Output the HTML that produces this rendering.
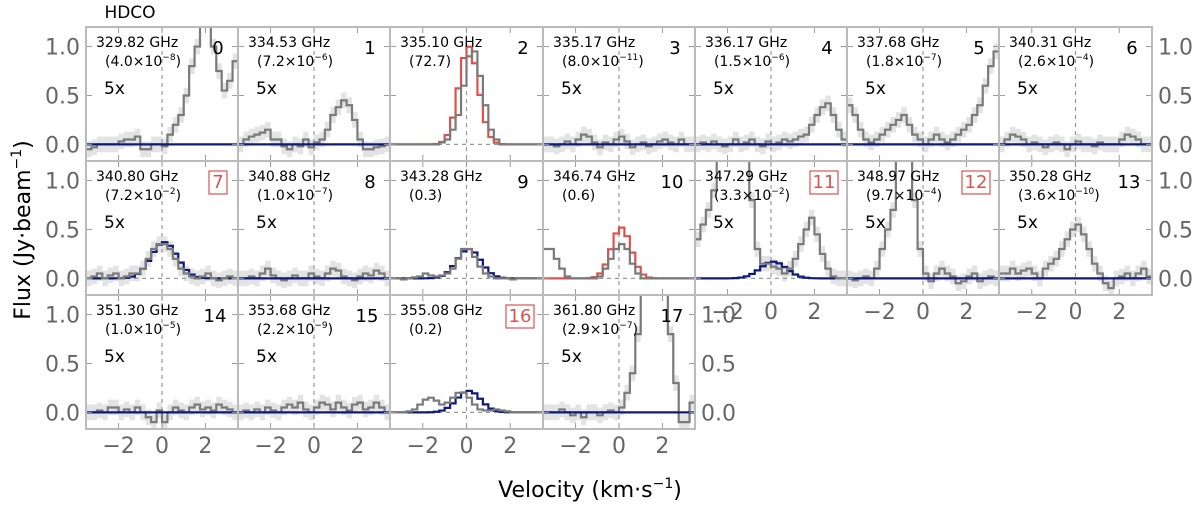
<!DOCTYPE html>
<html><head><meta charset="utf-8"><style>
body{margin:0;background:#fff;width:1200px;height:506px;overflow:hidden}
svg{display:block;font-family:"DejaVu Sans","Liberation Sans",sans-serif}
</style></head><body>
<svg id="fig" width="1200" height="506" viewBox="0 0 1200 506" xmlns="http://www.w3.org/2000/svg">
<text x="130" y="18" font-size="17" text-anchor="middle">HDCO</text>
<text x="590" y="497" font-size="22" text-anchor="middle">Velocity (km·s<tspan dy="-9" font-size="14">−1</tspan><tspan dy="9">)</tspan></text>
<text transform="translate(30,230) rotate(-90)" font-size="22" text-anchor="middle">Flux (Jy·beam<tspan dy="-9" font-size="14">−1</tspan><tspan dy="9">)</tspan></text>
</svg>
<script>
const freqs=["329.82 GHz","334.53 GHz","335.10 GHz","335.17 GHz","336.17 GHz","337.68 GHz","340.31 GHz","340.80 GHz","340.88 GHz","343.28 GHz","346.74 GHz","347.29 GHz","348.97 GHz","350.28 GHz","351.30 GHz","353.68 GHz","355.08 GHz","361.80 GHz"];
const noteBase=["4.0","7.2","72.7","8.0","1.5","1.8","2.6","7.2","1.0","0.3","0.6","3.3","9.7","3.6","1.0","2.2","0.2","2.9"];
const noteExp=["−8","−6","","−11","−6","−7","−4","−2","−7","","","−2","−4","−10","−5","−9","","−7"];
const boxed=[7,11,12,16];
const scaled=[0,1,3,4,5,6,7,8,11,12,13,14,15,17];
const noisy=[0,1,3,4,5,6,7,8,11,12,13,14,15,17];
const obs=[
[-0.05,-0.03,0,0,0,0,0.03,0.05,0.05,0.08,-0.05,-0.05,0,0,-0.02,0.1,0.2,0.3,0.5,0.8,1.0,1.3,1.3,1.0,0.75,0.55,0.65,0.85],
[0,0.05,0.08,0.1,0.12,0.15,0.05,0.05,-0.02,-0.05,0,-0.02,0.05,-0.03,0.02,0.05,0.15,0.3,0.38,0.45,0.4,0.25,0.05,-0.05,-0.05,-0.03,-0.02,0],
[0,0,0,0,0,0,0,0,0,0.02,0.05,0.15,0.3,0.6,0.9,0.95,0.7,0.4,0.15,0.05,0,0,0,0,0,0,0,0],
[0,0,-0.02,0,0.03,0,0.05,0.1,0.08,0.02,-0.03,0.02,0,0.05,0.08,0.03,-0.03,0,0.02,-0.02,0,0.03,0.05,0.02,0,0.05,0,0],
[0,0.02,0,0.03,0,-0.02,0,0.05,0,0.02,0.05,0,-0.02,0.03,0,0.02,0.05,0.03,0.05,0.08,0.1,0.2,0.3,0.38,0.42,0.3,0.15,0.05],
[0.4,0.3,0.15,0.05,0.02,0.05,0.1,0.15,0.2,0.25,0.3,0.2,0.1,0.05,0,0.05,0.1,0.05,0.02,0.05,0.1,0.15,0.2,0.3,0.4,0.6,0.8,0.95],
[0,0.05,0.1,0.08,0.05,0,0.02,0,-0.03,0,0.02,0,-0.05,0,0.03,0,0,-0.02,0.02,0,0,0,0.05,0.1,0.08,0.05,0,0],
[0,0.02,0.05,0,0.03,0.05,0,0.02,0.05,0.05,0.1,0.2,0.3,0.35,0.35,0.3,0.2,0.1,0.05,0.02,0,0.02,0.05,0,-0.02,0,0.02,0],
[0,0,0.02,0,0.05,0.1,0.03,0,-0.02,0,0.03,0,0,0.05,0.02,0,0.05,0.1,0.08,0.02,0,-0.02,0.02,0.05,0.03,0.08,0.05,0],
[0,0,-0.01,0,0.01,0.02,0.05,0.03,0.02,0.03,0.05,0.1,0.2,0.3,0.3,0.22,0.12,0.05,0.02,0,0,0,-0.01,0,0,0,0,0],
[0.3,0.3,0.2,0.1,0.02,0,0,0,0,0,0.02,0.1,0.2,0.3,0.35,0.3,0.15,0.05,0,0,0,0,0,0,0,0,0,0],
[0.4,0.55,0.7,0.9,1.3,1.3,1.3,1.3,1.3,1.3,0.8,0.3,0.15,0.15,0.12,0.1,0.05,0.1,0.2,0.35,0.5,0.62,0.45,0.25,0.1,0.02,0,0],
[0,-0.02,0,0.02,0,0.1,0.3,0.5,0.7,1.3,1.3,1.3,0.8,0.3,0.05,-0.03,0.05,0.1,0.05,0.02,-0.05,-0.03,0.02,0.05,-0.03,0,0.02,0],
[0.05,0.05,0.1,0.05,0.08,0.1,0.05,0,0.1,0.15,0.2,0.3,0.4,0.5,0.55,0.45,0.3,0.15,0.05,-0.05,-0.1,0,0.02,0.05,0,0.05,0.1,0.02],
[0,0,0.02,0,0.05,0.05,0,0.03,0,0.05,0,-0.05,-0.1,0.02,-0.1,0,0.05,0.02,0,0.05,0.08,0.03,0.05,0.02,0.08,0.05,0.03,0],
[0,0.02,0,0.03,0,0.05,0.02,0,0.05,0.08,0.05,0.1,0.03,0,0.05,0.1,0.08,0.03,0.1,0.05,0.02,0.08,0.1,0.03,0.05,0.1,0.05,0],
[0,0,0,0.01,0.03,0.08,0.13,0.15,0.12,0.08,0.1,0.15,0.2,0.2,0.15,0.08,0.03,0.02,0.02,0.03,0.02,0.01,0,0,0,0,0,0],
[0,0,0,0.03,0,-0.03,0,-0.05,0,0,-0.03,0,0.02,0,0.05,0.2,0.4,0.8,1.3,1.3,1.3,1.3,1.3,0.8,0.3,-0.1,-0.1,0.1]];
const modelAmp=[0,0,1.0,0,0,0,0,0.37,0,0.3,0.52,0.17,0,0,0,0,0.22,0];
const modelCen=[0,0,0.1,0,0,0,0,0.1,0,0.1,0.1,0.1,0,0,0,0,0.1,0];
const modelSig=[1,1,0.45,1,1,1,1,0.6,1,0.55,0.45,0.6,1,1,1,1,0.55,1];
const redModel=[2,10];
const xTicks=[-2,0,2], yTicks=[0,0.5,1.0], yTickLabels=["0.0","0.5","1.0"];
const V0=-3.5,V1=3.5,Y0=-0.17,Y1=1.2,CH=0.25;
const colX=[86,238,390,543,695,847,999,1152], rowY=[27,161,295,429];
const NS="http://www.w3.org/2000/svg", svg=document.getElementById('fig');
function mk(t,a,p){const e=document.createElementNS(NS,t);for(const k in a)e.setAttribute(k,a[k]);(p||svg).appendChild(e);return e;}
freqs.forEach((f,i)=>{
 const r=Math.floor(i/7),c=i%7;
 const L=colX[c],R=colX[c+1],T=rowY[r],B=rowY[r+1];
 const sx=v=>L+(v-V0)/(V1-V0)*(R-L);
 const sy=y=>T+(Y1-Math.max(Y0,Math.min(Y1+0.05,y)))/(Y1-Y0)*(B-T);
 const g=mk('g',{});
 
 
 const cid='clip'+i;
 const cp=mk('clipPath',{id:cid},g);mk('rect',{x:L,y:T,width:R-L,height:B-T},cp);
 const inner=mk('g',{'clip-path':'url(#'+cid+')'},g);
 const step=(arr)=>{let d='';arr.forEach((y,k)=>{const xa=sx(V0+k*CH),xb=sx(V0+(k+1)*CH);d+=(k?'L':'M')+xa+','+sy(y)+'L'+xb+','+sy(y);});return d;};
 if(noisy.includes(i)){
  let up='',dn=[];obs[i].forEach((y,k)=>{const xa=sx(V0+k*CH),xb=sx(V0+(k+1)*CH);up+=(k?'L':'M')+xa+','+sy(y+0.08)+'L'+xb+','+sy(y+0.08);dn.unshift('L'+xb+','+sy(y-0.08)+'L'+xa+','+sy(y-0.08));});
  const band=mk('path',{d:up+dn.join('')+'Z',fill:'#e3e3e3',stroke:'none'},inner);
  
  
 }
 mk('line',{x1:sx(0),x2:sx(0),y1:T,y2:B,stroke:'#999','stroke-dasharray':'4,4','stroke-width':1.2},inner);
 mk('line',{x1:L,x2:R,y1:sy(0),y2:sy(0),stroke:'#999','stroke-dasharray':'4,4','stroke-width':1.2},inner);
 const mod=obs[i].map((_,k)=>{const v=V0+(k+0.5)*CH;return modelAmp[i]*Math.exp(-0.5*Math.pow((v-modelCen[i])/modelSig[i],2));});
 const mcol=redModel.includes(i)?'#d9534f':'#0d1a7a';
 const ml0=modelAmp[i]>0 && !redModel.includes(i);
 let ml;
 if(ml0){ml=mk('path',{d:step(mod),fill:'none',stroke:mcol,'stroke-width':2.2},inner);}
 const obsLine=mk('path',{d:step(obs[i]),fill:'none',stroke:'#7a7a7a','stroke-width':2.2},inner);
 
 
 if(!ml0){ml=mk('path',{d:step(mod),fill:'none',stroke:mcol,'stroke-width':2.2},inner);}
 if(redModel.includes(i)) inner.appendChild(obsLine);
 
 
 xTicks.forEach(v=>{mk('line',{x1:sx(v),x2:sx(v),y1:B,y2:B-6,stroke:'#999','stroke-width':1},g);mk('line',{x1:sx(v),x2:sx(v),y1:T,y2:T+6,stroke:'#999','stroke-width':1},g);});
 yTicks.forEach(v=>{mk('line',{x1:L,x2:L+6,y1:sy(v),y2:sy(v),stroke:'#999','stroke-width':1},g);mk('line',{x1:R,x2:R-6,y1:sy(v),y2:sy(v),stroke:'#999','stroke-width':1},g);});
 mk('rect',{x:L,y:T,width:R-L,height:B-T,fill:'none',stroke:'#bbb','stroke-width':2},g);
 const ft=mk('text',{x:L+10,y:T+20,'font-size':14},g);ft.textContent=f;
 
 const nt=mk('text',{x:L+19,y:T+39,'font-size':14},g);
 if(noteExp[i]){
  const a=mk('tspan',{},nt);a.textContent='('+noteBase[i]+'×10';
  const b=mk('tspan',{dy:-6,'font-size':9},nt);b.textContent=noteExp[i];
  const cc=mk('tspan',{dy:6},nt);cc.textContent=')';
 } else nt.textContent='('+noteBase[i]+')';
 
 const isB=boxed.includes(i);
 const num=mk('text',{x:R-(i>=10?23:20),y:T+27,'font-size':18,'text-anchor':'middle',fill:isB?'#d9534f':'#000'},g);num.textContent=i;
 
 if(isB){const w=i>=10?28:18;mk('rect',{x:R-(i>=10?23:20)-w/2,y:T+10,width:w,height:23,fill:'none',stroke:'#d9534f','stroke-width':1.2},g);}
 if(scaled.includes(i)){const s=mk('text',{x:L+18,y:T+67,'font-size':17},g);s.textContent='5x';}
 const leftLab=c===0, rightLab=(c===6&&r<2)||i===17, bottomLab=r===2||(r===1&&c>=4);
 if(leftLab)yTicks.forEach((v,k)=>{const t=mk('text',{x:L-6,y:sy(v)+8,'font-size':22,'text-anchor':'end',fill:'#666'});t.textContent=yTickLabels[k];});
 if(rightLab)yTicks.forEach((v,k)=>{const t=mk('text',{x:R+6,y:sy(v)+8,'font-size':22,fill:'#666'});t.textContent=yTickLabels[k];});
 if(bottomLab)xTicks.forEach(v=>{const t=mk('text',{x:sx(v),y:B+24,'font-size':22,'text-anchor':'middle',fill:'#666'});t.textContent=v<0?'−'+(-v):''+v;});
});
</script>
</body></html>
